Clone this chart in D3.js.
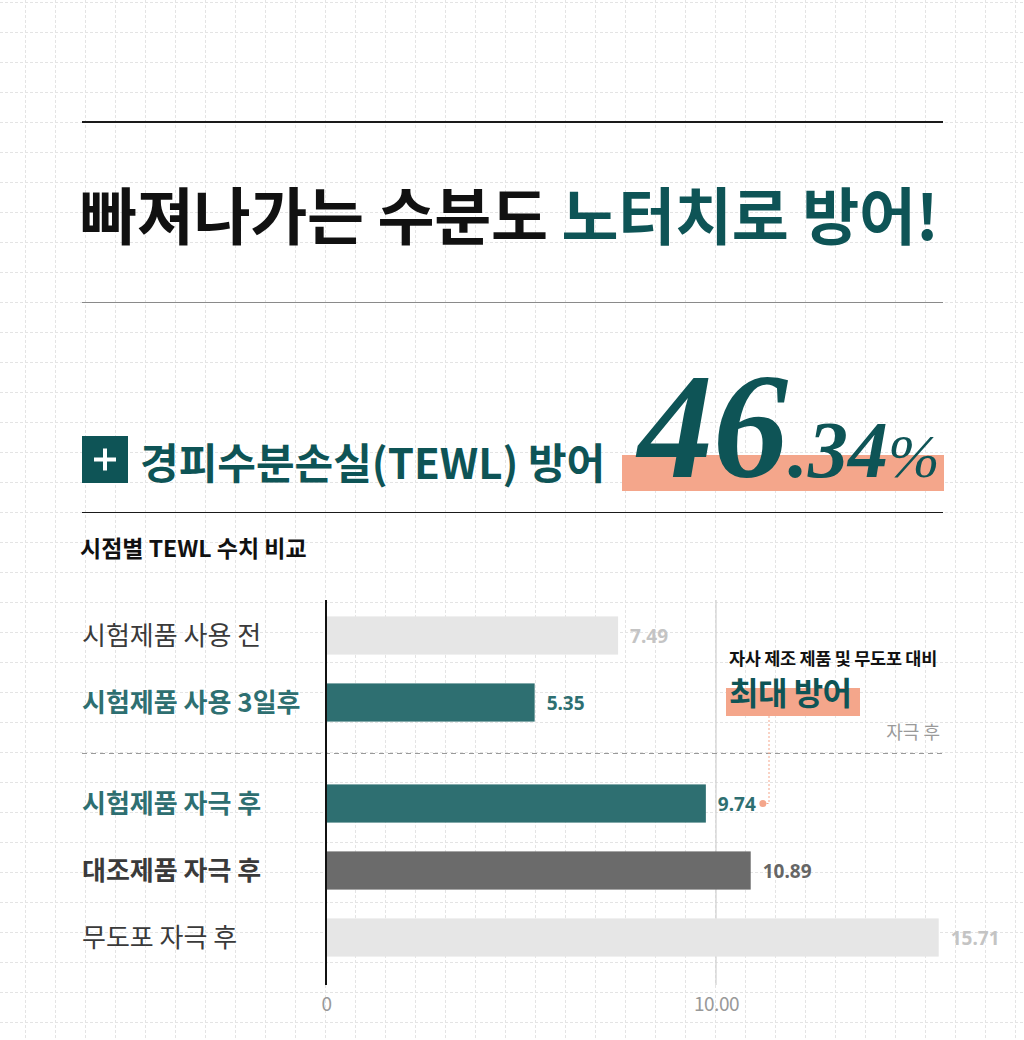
<!DOCTYPE html>
<meta charset="utf-8">
<style>
body { margin: 0; background: #fff; }
svg { display: block; }
text { font-family: "Noto Sans CJK KR", "Noto Sans", sans-serif; }
</style>
<body>
<svg width="1024" height="1040"></svg>
<script src="https://cdn.jsdelivr.net/npm/d3@7"></script>
<script>
// chart data
var categories = ["시험제품 사용 전", "시험제품 사용 3일후", "시험제품 자극 후", "대조제품 자극 후", "무도포 자극 후"];
var values = [7.49, 5.35, 9.74, 10.89, 15.71];
var stages = ["사용", "사용", "자극", "자극", "자극"];
var tickValues = [0, 10];
var tickLabels = ["0", "10.00"];

// per-row styling
var barColors = ["#e6e6e6", "#2e6f71", "#2e6f71", "#6b6b6b", "#e6e6e6"];
var valueColors = ["#c4c4c4", "#2e6f71", "#2e6f71", "#666666", "#c4c4c4"];
var labelColors = ["#3a3a3a", "#2e6f71", "#2e6f71", "#3a3a3a", "#3a3a3a"];
var labelWeights = [400, 700, 700, 700, 400];

var teal = "#0e5456", salmon = "#f4a68b";

var svg = d3.select("svg");

// background grid
var grid = svg.append("g").attr("stroke", "#e4e4e4").attr("stroke-width", 1).attr("stroke-dasharray", "3,2");
d3.range(25, 1024, 30).forEach(function(x) {
  grid.append("line").attr("x1", x + 0.5).attr("x2", x + 0.5).attr("y1", 0).attr("y2", 1040);
});
d3.range(2, 1040, 30).forEach(function(y) {
  grid.append("line").attr("x1", 0).attr("x2", 1024).attr("y1", y + 0.5).attr("y2", y + 0.5);
});

// header
svg.append("line").attr("x1", 82).attr("x2", 943).attr("y1", 122).attr("y2", 122)
  .attr("stroke", "#1a1a1a").attr("stroke-width", 2);

var title = svg.append("text").attr("x", 80).attr("y", 240)
  .style("font-size", "62px").style("font-weight", 700).style("letter-spacing", "-0.3px");
title.append("tspan").attr("fill", "#111").text("빠져나가는 수분도 ");
title.append("tspan").attr("fill", teal).text("노터치로 방어!");

svg.append("line").attr("x1", 82).attr("x2", 943).attr("y1", 302.5).attr("y2", 302.5)
  .attr("stroke", "#8a8a8a").attr("stroke-width", 1);

// plus badge + subtitle
svg.append("rect").attr("x", 82).attr("y", 436).attr("width", 46).attr("height", 47).attr("fill", teal);
svg.append("rect").attr("x", 94).attr("y", 457.5).attr("width", 22).attr("height", 4).attr("fill", "#fff");
svg.append("rect").attr("x", 103).attr("y", 448.5).attr("width", 4).attr("height", 22).attr("fill", "#fff");

svg.append("text").attr("x", 140).attr("y", 479).attr("fill", teal)
  .style("font-size", "42px").style("font-weight", 700)
  .text("경피수분손실(TEWL) 방어");

svg.append("rect").attr("x", 622).attr("y", 455).attr("width", 322).attr("height", 36).attr("fill", salmon);

var big = svg.append("text").attr("x", 638).attr("y", 477).attr("fill", teal)
  .style("font-family", "'Liberation Serif', 'DejaVu Serif', serif")
  .style("font-style", "italic").style("font-weight", 700);
big.append("tspan").style("font-size", "150px").text("46");
big.append("tspan").style("font-size", "80px").text(".34");
big.append("tspan").style("font-size", "62px").style("font-weight", 400).text("%");

svg.append("line").attr("x1", 82).attr("x2", 943).attr("y1", 512.5).attr("y2", 512.5)
  .attr("stroke", "#1a1a1a").attr("stroke-width", 1.2);

svg.append("text").attr("x", 80).attr("y", 557).attr("fill", "#111")
  .style("font-size", "23px").style("font-weight", 700)
  .text("시점별 TEWL 수치 비교");

// scales
var x = d3.scaleLinear().domain([0, 10]).range([326, 716]);
var y = d3.scaleBand().domain(categories).range([602, 937]).paddingInner(0.43).paddingOuter(0.215);
var stageGap = 34;
function rowY(d, i) { return y(categories[i]) + (stages[i] === stages[0] ? 0 : stageGap); }

// vertical gridline at 10 and axis
svg.append("line").attr("x1", x(10)).attr("x2", x(10)).attr("y1", 600).attr("y2", 985)
  .attr("stroke", "#d0d0d0").attr("stroke-width", 1.2);

var axis = svg.append("g").attr("transform", "translate(0,985)")
  .call(d3.axisBottom(x).tickValues(tickValues).tickSize(0).tickFormat(function(d, i) { return tickLabels[i]; }));
axis.select(".domain").remove();
axis.selectAll("text").attr("y", 26).attr("dy", 0).attr("fill", "#999")
  .style("font-family", "'Noto Sans CJK KR', sans-serif").style("font-size", "19px").style("letter-spacing", "-0.5px");

// divider between stages
svg.append("line").attr("x1", 82).attr("x2", 943).attr("y1", 753.5).attr("y2", 753.5)
  .attr("stroke", "#9a9a9a").attr("stroke-width", 1).attr("stroke-dasharray", "5,4");
svg.append("text").attr("x", 940).attr("y", 739).attr("text-anchor", "end").attr("fill", "#9a9a9a")
  .style("font-size", "18px").text("자극 후");

// bars
svg.selectAll(".bar").data(values).enter().append("rect")
  .attr("class", "bar")
  .attr("x", x(0))
  .attr("y", rowY)
  .attr("width", function(d) { return x(d) - x(0); })
  .attr("height", y.bandwidth())
  .attr("fill", function(d, i) { return barColors[i]; });

svg.append("line").attr("x1", x(0)).attr("x2", x(0)).attr("y1", 600).attr("y2", 985)
  .attr("stroke", "#111").attr("stroke-width", 2);

// value labels
svg.selectAll(".val").data(values).enter().append("text")
  .attr("class", "val")
  .attr("x", function(d) { return x(d) + 12; })
  .attr("y", function(d, i) { return rowY(d, i) + y.bandwidth() / 2 + 7; })
  .attr("fill", function(d, i) { return valueColors[i]; })
  .style("font-family", "'Noto Sans', sans-serif")
  .style("font-size", "19px").style("font-weight", 700)
  .text(function(d) { return d3.format(".2f")(d); });

// category labels
svg.selectAll(".cat").data(categories).enter().append("text")
  .attr("class", "cat")
  .attr("x", 82)
  .attr("y", function(d, i) { return rowY(d, i) + y.bandwidth() / 2 + 9; })
  .attr("fill", function(d, i) { return labelColors[i]; })
  .style("font-size", "26px").style("font-weight", function(d, i) { return labelWeights[i]; })
  .text(function(d) { return d; });

// annotation
svg.append("text").attr("x", 729).attr("y", 665).attr("fill", "#111")
  .style("font-size", "17.5px").style("font-weight", 700).style("letter-spacing", "-0.3px")
  .text("자사 제조 제품 및 무도포 대비");
svg.append("rect").attr("x", 726).attr("y", 688).attr("width", 134).attr("height", 28).attr("fill", salmon);
svg.append("text").attr("x", 729).attr("y", 705).attr("fill", teal)
  .style("font-size", "32px").style("font-weight", 700).style("letter-spacing", "-0.5px")
  .text("최대 방어");

var ay = rowY(values[2], 2) + y.bandwidth() / 2;
svg.append("path")
  .attr("d", "M769," + 716 + "V" + ay + "H" + (x(values[2]) + 58))
  .attr("fill", "none").attr("stroke", salmon).attr("stroke-width", 1).attr("stroke-dasharray", "2,2");
svg.append("circle").attr("cx", x(values[2]) + 57).attr("cy", ay).attr("r", 3.5).attr("fill", salmon);
</script>
</body>
